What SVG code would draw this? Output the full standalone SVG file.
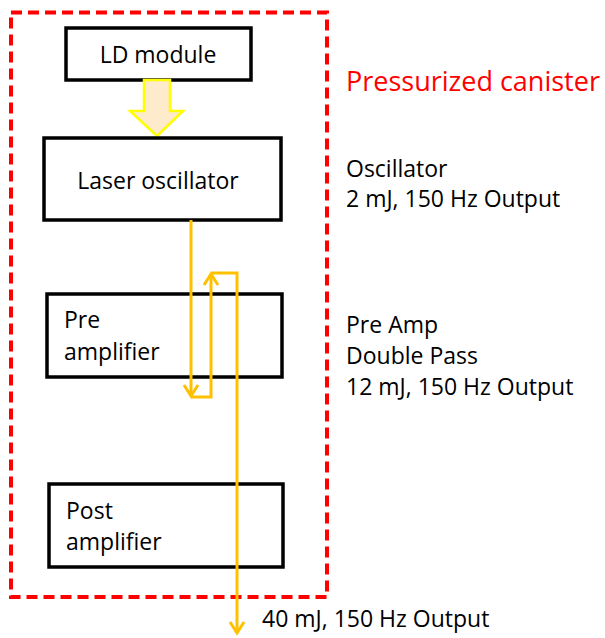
<svg xmlns="http://www.w3.org/2000/svg" width="605" height="638" viewBox="0 0 605 638">
<defs>
<style>
.box{fill:#fff;stroke:#000;stroke-width:3.5}
.t{font-family:"Open Sans","Liberation Sans",sans-serif;font-size:23px;fill:#000}
.beam{fill:none;stroke:#FFC000;stroke-width:3}
</style>
<marker id="ah" markerUnits="userSpaceOnUse" markerWidth="20" markerHeight="20" refX="0" refY="0" viewBox="-14 -10 20 20" orient="auto" overflow="visible">
<path d="M-11,-7 L0,0 L-11,7" fill="none" stroke="#FFC000" stroke-width="3"/>
</marker>
</defs>
<rect width="605" height="638" fill="#fff"/>
<g id="canister">
<rect x="11" y="12.5" width="316" height="584.5" fill="none" stroke="#FF0000" stroke-width="4" stroke-dasharray="11,6"/>
<text x="346" y="91" style="font-family:'Open Sans','Liberation Sans',sans-serif;font-size:27px;fill:#FF0000">Pressurized canister</text>
</g>
<g id="ld-module">
<rect class="box" x="66" y="28" width="185" height="52"/>
<text class="t" x="158" y="63" text-anchor="middle">LD module</text>
</g>
<g id="pump-arrow">
<path d="M144,80 H170 V111 H183 L157,136 L130,111 H144 Z" fill="#FDEBCB" stroke="#FFFF00" stroke-width="2.5"/>
</g>
<g id="laser-oscillator">
<rect class="box" x="44" y="138" width="237" height="82"/>
<text class="t" x="158" y="189" text-anchor="middle">Laser oscillator</text>
</g>
<g id="pre-amplifier">
<rect class="box" x="47" y="294" width="235" height="83"/>
<text class="t" x="64" y="328">Pre</text>
<text class="t" x="64" y="360">amplifier</text>
</g>
<g id="post-amplifier">
<rect class="box" x="49" y="484" width="234" height="83"/>
<text class="t" x="66" y="519">Post</text>
<text class="t" x="66" y="550">amplifier</text>
</g>
<g id="connectors">
<path class="beam" d="M191,220 V396" marker-end="url(#ah)"/>
<path class="beam" d="M191,397 H211 V274" marker-end="url(#ah)"/>
<path class="beam" d="M211,273 H237 V633" marker-end="url(#ah)"/>
</g>
<g id="labels">
<text class="t" x="346" y="177">Oscillator</text>
<text class="t" x="346" y="207">2 mJ, 150 Hz Output</text>
<text class="t" x="346" y="333">Pre Amp</text>
<text class="t" x="346" y="364">Double Pass</text>
<text class="t" x="346" y="395">12 mJ, 150 Hz Output</text>
<text class="t" x="262" y="627">40 mJ, 150 Hz Output</text>
</g>
</svg>
